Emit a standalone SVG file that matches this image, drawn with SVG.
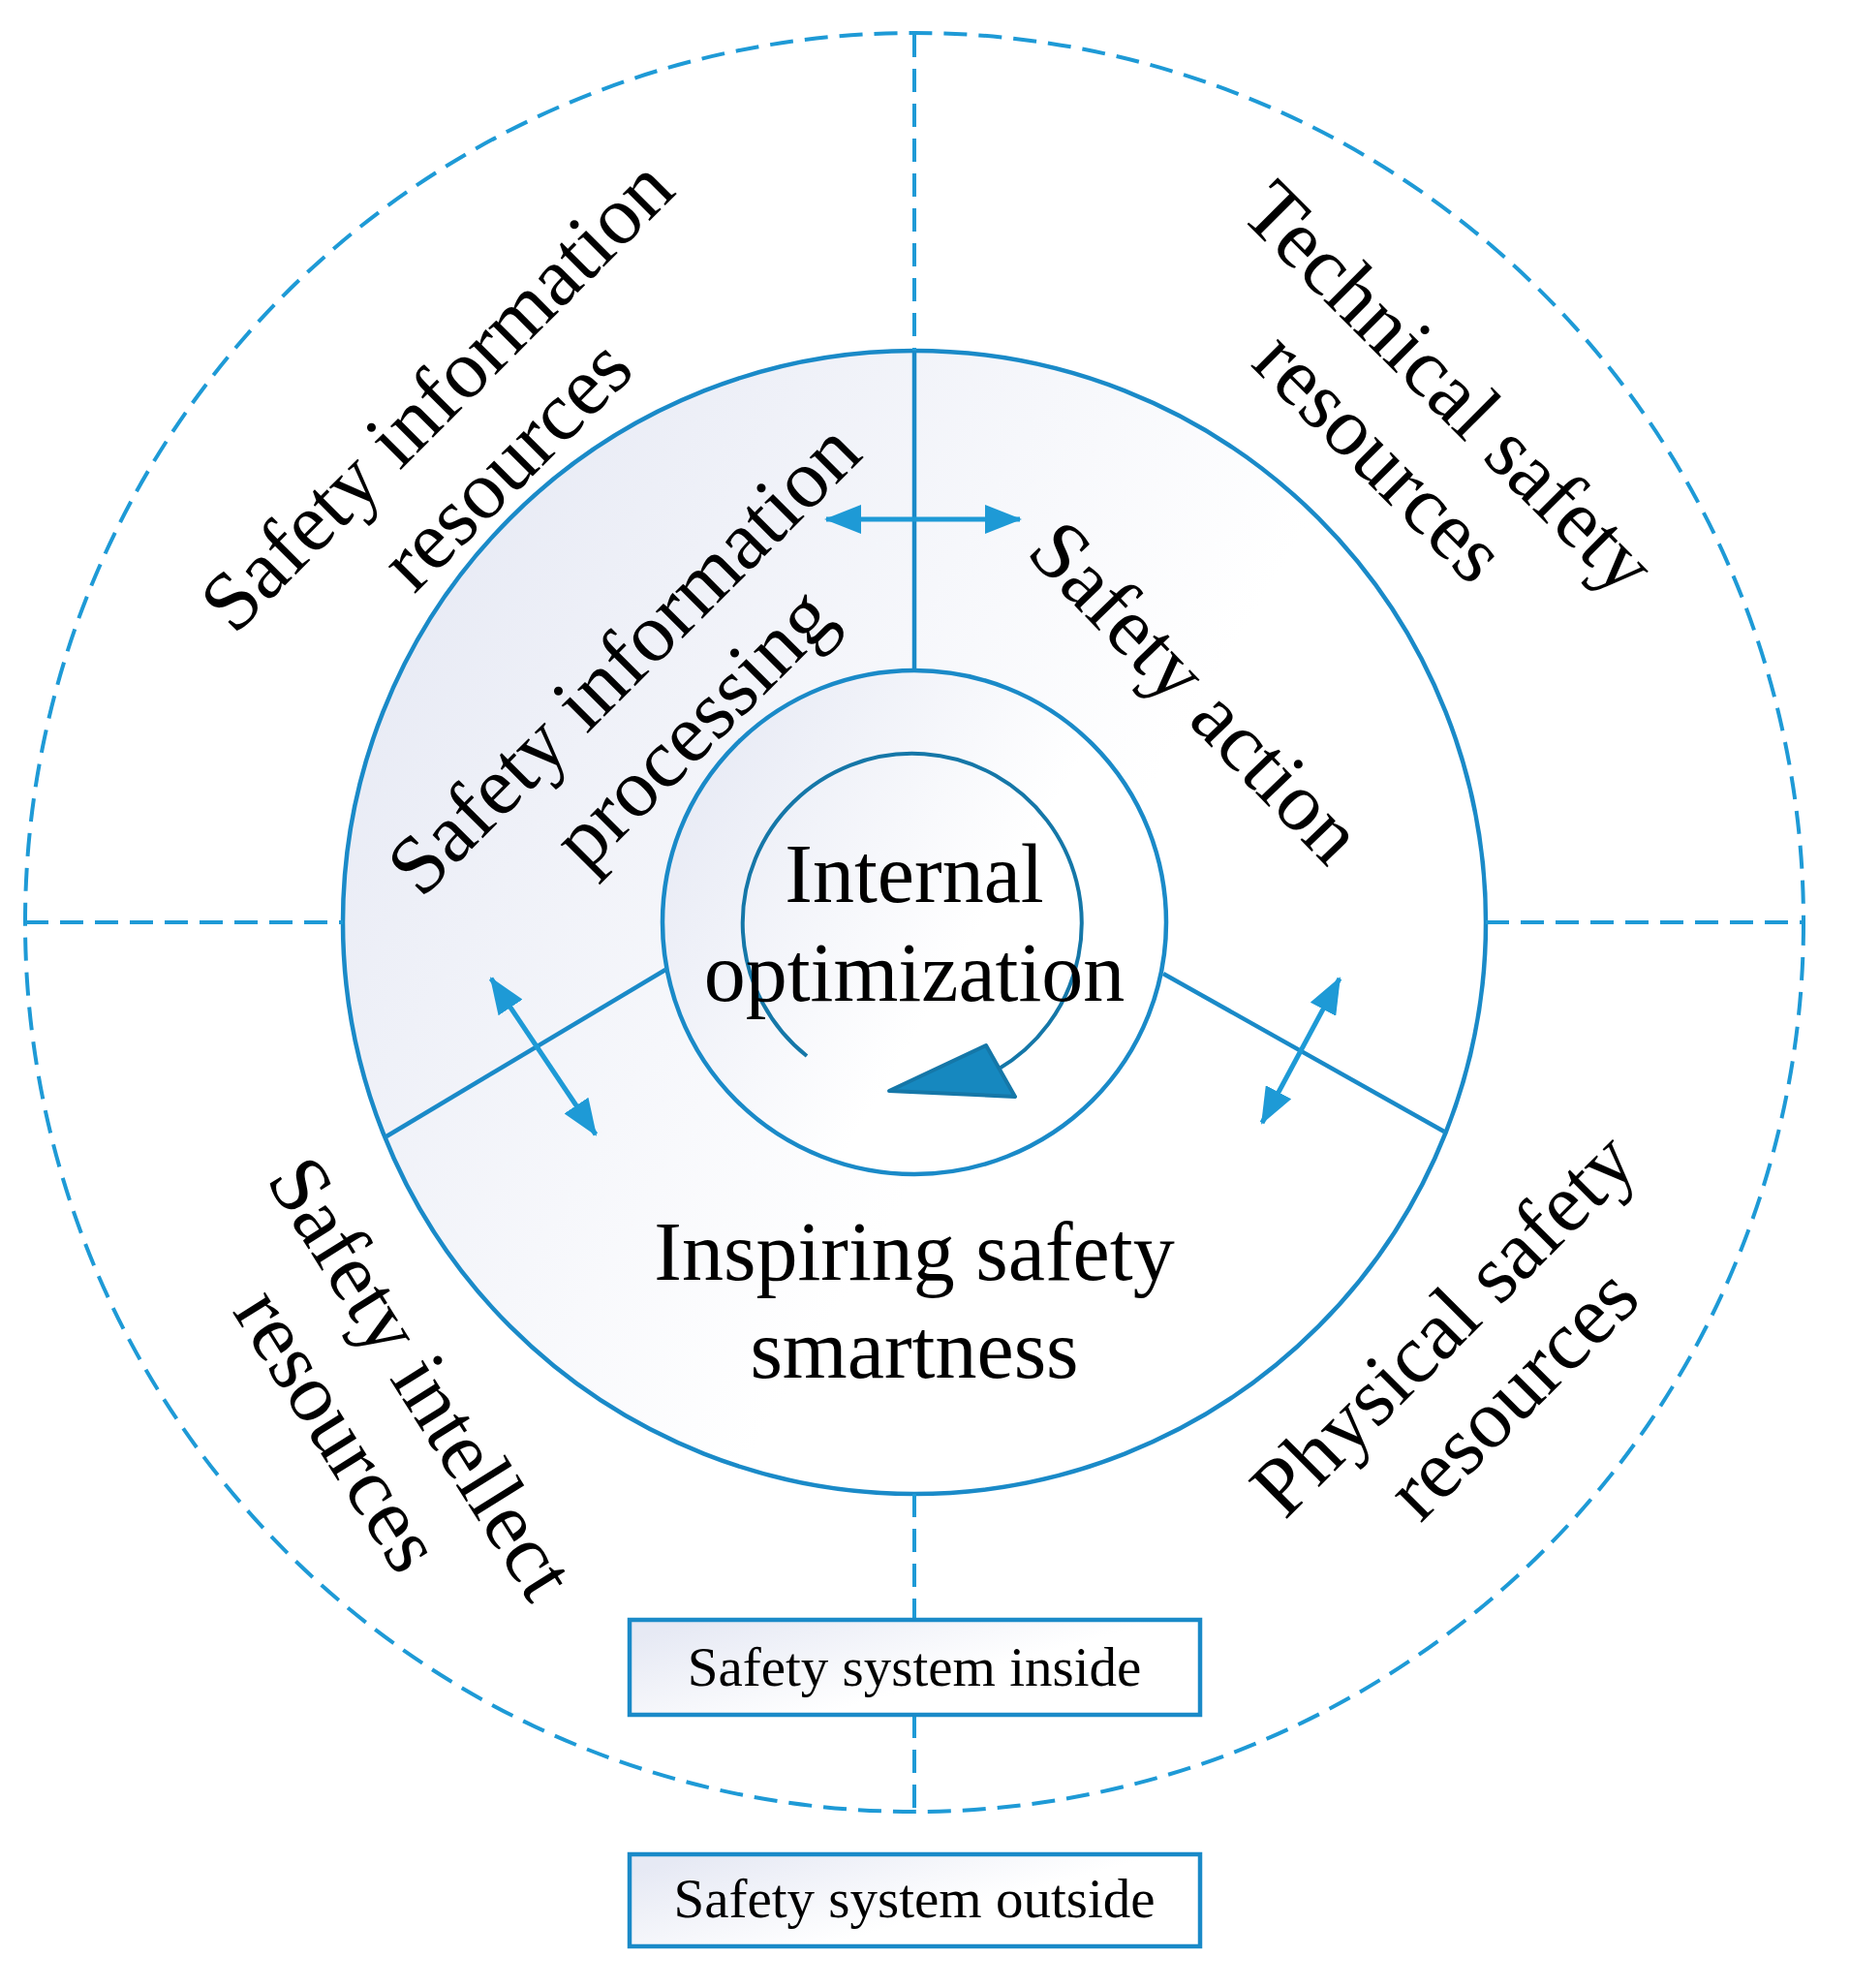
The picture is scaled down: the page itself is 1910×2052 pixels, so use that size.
<svg xmlns="http://www.w3.org/2000/svg" width="1910" height="2052" viewBox="0 0 1910 2052">
<defs>
<linearGradient id="g" x1="0" y1="0.2" x2="1" y2="0.8"><stop offset="0" stop-color="#e6e9f4"/><stop offset="0.6" stop-color="#ffffff"/></linearGradient>
<linearGradient id="go" gradientUnits="userSpaceOnUse" x1="26" y1="400" x2="1400" y2="1100"><stop offset="0" stop-color="#e0e4f2"/><stop offset="0.75" stop-color="#ffffff"/></linearGradient>
<marker id="ah" viewBox="0 0 38 30" refX="36" refY="15" markerWidth="38" markerHeight="30" markerUnits="userSpaceOnUse" orient="auto-start-reverse"><path d="M0,0 L38,15 L0,30 Z" fill="#1e9ad6"/></marker>
<style>
.c{stroke:#1a8ac8;stroke-width:4.5}
.d{stroke:#1e9ad6;stroke-width:4;stroke-dasharray:24 12;fill:none}
.s{stroke:#1a8ac8;stroke-width:4.5;fill:none}
.a{stroke:#1e9ad6;stroke-width:5;fill:none;marker-start:url(#ah);marker-end:url(#ah)}
.t{font-family:"Liberation Serif",serif;font-size:86px;fill:#000;text-anchor:middle}
.b{font-family:"Liberation Serif",serif;font-size:57px;fill:#000;text-anchor:middle}
</style>
</defs>
<g id="outer"><circle cx="944" cy="952" r="918" fill="url(#go)" class="d"/></g>
<g id="middle"><circle cx="944" cy="952" r="590" fill="url(#g)" class="c"/></g>
<g id="inner"><circle cx="944" cy="952" r="260" fill="url(#g)" class="c"/></g>
<g id="connectors">
<line x1="944" y1="35" x2="944" y2="362" class="d"/>
<line x1="944" y1="362" x2="944" y2="692" class="s"/>
<line x1="26" y1="952" x2="354" y2="952" class="d"/>
<line x1="1534" y1="952" x2="1864" y2="952" class="d"/>
<line x1="944" y1="1542" x2="944" y2="1672" class="d"/>
<line x1="944" y1="1770" x2="944" y2="1870" class="d"/>
<line x1="687" y1="1001" x2="399" y2="1173" class="s"/>
<line x1="1201" y1="1005" x2="1491" y2="1168" class="s"/>
<line x1="853" y1="536" x2="1053" y2="536" class="a"/>
<line x1="507" y1="1010" x2="615" y2="1171" class="a"/>
<line x1="1383" y1="1010" x2="1303" y2="1159" class="a"/>
<path d="M833 1090 A175 175 0 1 1 1030 1104" stroke="#1577a8" stroke-width="4" fill="none"/>
<polygon points="918,1126 1018,1079 1048,1132" fill="#1688bf" stroke="#1577a8" stroke-width="4" stroke-linejoin="round"/>
</g>
<g id="center-text">
<text class="t" x="944" y="931">Internal</text>
<text class="t" x="944" y="1033">optimization</text>
</g>
<g id="inspiring">
<text class="t" x="944" y="1321">Inspiring safety</text>
<text class="t" x="944" y="1422">smartness</text>
</g>
<g id="sir" transform="translate(485,442) rotate(-45)">
<text class="t" x="0" y="-20">Safety information</text>
<text class="t" x="0" y="81">resources</text>
</g>
<g id="tsr" transform="translate(1462,434) rotate(45)">
<text class="t" x="0" y="-20">Technical safety</text>
<text class="t" x="0" y="81">resources</text>
</g>
<g id="sip" transform="translate(678,714) rotate(-45)">
<text class="t" x="0" y="-20">Safety information</text>
<text class="t" x="0" y="81">processing</text>
</g>
<g id="sa" transform="translate(1236,713) rotate(46)">
<text class="t" x="0" y="30">Safety action</text>
</g>
<g id="sint" transform="translate(394,1448) rotate(58)">
<text class="t" x="0" y="-20">Safety intellect</text>
<text class="t" x="0" y="81">resources</text>
</g>
<g id="psr" transform="translate(1524,1401) rotate(-45)">
<text class="t" x="0" y="-20">Physical safety</text>
<text class="t" x="0" y="81">resources</text>
</g>
<g id="box-inside"><rect x="650" y="1672" width="589" height="98" fill="url(#g)" class="c"/><text class="b" x="944" y="1740">Safety system inside</text></g>
<g id="box-outside"><rect x="650" y="1914" width="589" height="95" fill="url(#g)" class="c"/><text class="b" x="944" y="1979">Safety system outside</text></g>
</svg>
